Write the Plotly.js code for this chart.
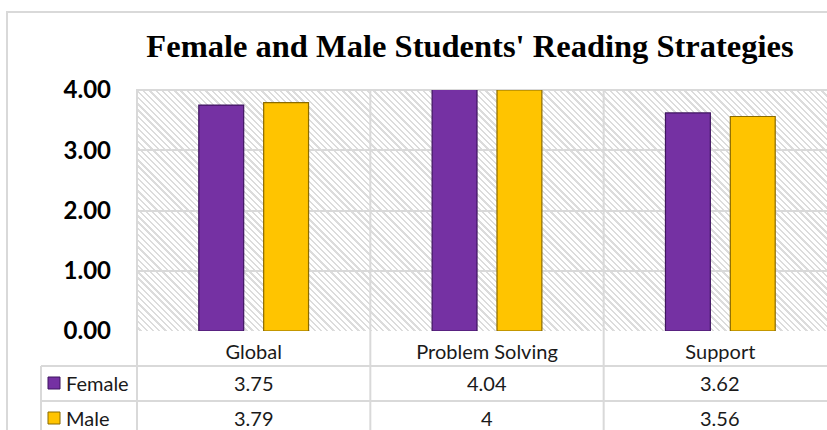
<!DOCTYPE html>
<html>
<head>
<meta charset="utf-8">
<script src="https://cdn.plot.ly/plotly-3.0.1.min.js"></script>
<style>
  html, body { margin: 0; padding: 0; background: #ffffff; overflow: hidden; }
  #wrap { position: relative; width: 827px; height: 430px; overflow: hidden; background: #ffffff; }
  #hatch { position: absolute; left: 136px; top: 90px; width: 702px; height: 241px;
    background: repeating-linear-gradient(45deg, #ffffff 0px, #ffffff 2.8px, #dcdcdc 2.8px, #dcdcdc 4.4px); }
  #frame { position: absolute; left: 6px; top: 11px; width: 900px; height: 500px;
    border-left: 2px solid #d9d9d9; border-top: 2px solid #d9d9d9; }
  #chart { position: absolute; left: 0; top: 0; }
</style>
</head>
<body>
<div id="wrap">
  <div id="frame"></div>
  <div id="hatch"></div>
  <div id="chart"></div>
</div>
<script>
const categories = ['Global', 'Problem Solving', 'Support'];
const seriesNames = ['Female', 'Male'];
const femaleValues = [3.75, 4.04, 3.62];
const maleValues = [3.79, 4, 3.56];
const femaleLabels = ['3.75', '4.04', '3.62'];
const maleLabels = ['3.79', '4', '3.56'];
const yTickVals = [0, 1, 2, 3, 4];
const titleText = "Female and Male Students' Reading Strategies";

const colors = ['#7531a3', '#ffc400'];
const edgeColors = ['#3f1560', '#8a6a00'];

// layout geometry (pixels)
const W = 850, H = 430;
const mL = 136, mR = 12, mT = 90, mB = 99;
const plotW = W - mL - mR, plotH = H - mT - mB;
const px = x => (x - mL) / plotW;      // pixel -> paper x
const py = y => (H - mB - y) / plotH;  // pixel -> paper y

const traces = [femaleValues, maleValues].map((vals, i) => ({
  type: 'bar',
  name: seriesNames[i],
  x: categories,
  y: vals,
  marker: { color: colors[i], line: { color: edgeColors[i], width: 1.2 } },
  hoverinfo: 'skip',
  cliponaxis: true
}));

const grid = '#d9d9d9';
const shapes = [];
// vertical category separators through plot and table
for (let k = 0; k <= categories.length; k++) {
  shapes.push({ type: 'line', xref: 'x', yref: 'paper', x0: k - 0.5, x1: k - 0.5,
    y0: py(440), y1: 1, line: { color: grid, width: 2 }, layer: 'below' });
}
// top border of plot
shapes.push({ type: 'line', xref: 'paper', yref: 'paper', x0: 0, x1: 1, y0: 1, y1: 1,
  line: { color: grid, width: 2 }, layer: 'below' });
// table row lines
[366, 401].forEach(yy => shapes.push({ type: 'line', xref: 'paper', yref: 'paper',
  x0: px(41), x1: 1, y0: py(yy), y1: py(yy), line: { color: grid, width: 2 } }));
// table left border
shapes.push({ type: 'line', xref: 'paper', yref: 'paper', x0: px(41), x1: px(41),
  y0: py(440), y1: py(366), line: { color: grid, width: 2 } });

// legend swatches in table
const rowCenters = [383, 418];
seriesNames.forEach((n, i) => {
  shapes.push({ type: 'rect', xref: 'paper', yref: 'paper',
    x0: px(48), x1: px(60), y0: py(rowCenters[i] + 6), y1: py(rowCenters[i] - 6),
    fillcolor: colors[i], line: { color: edgeColors[i], width: 1 } });
});

const annotations = [];
const tblFont = { family: 'Lato, sans-serif', size: 20, color: '#1a1a1a' };
[femaleLabels, maleLabels].forEach((labels, i) => {
  annotations.push({ xref: 'paper', yref: 'paper', x: px(64), y: py(rowCenters[i]),
    xanchor: 'left', yanchor: 'middle', text: seriesNames[i], showarrow: false, font: tblFont });
  labels.forEach((t, j) => {
    annotations.push({ xref: 'x', yref: 'paper', x: categories[j], y: py(rowCenters[i]),
      xanchor: 'center', yanchor: 'middle', text: t, showarrow: false, font: tblFont });
  });
});

const layout = {
  width: W, height: H,
  margin: { l: mL, r: mR, t: mT, b: mB, pad: 0 },
  paper_bgcolor: 'rgba(0,0,0,0)',
  plot_bgcolor: 'rgba(0,0,0,0)',
  showlegend: false,
  barmode: 'group',
  bargap: 0.444,
  bargroupgap: 0.308,
  title: { text: '<b>' + titleText + '</b>', font: { family: 'Liberation Serif, serif', size: 32.5, color: '#000000' },
    x: 470 / W, xref: 'container', xanchor: 'center', y: 1 - 46 / H, yref: 'container', yanchor: 'middle' },
  xaxis: {
    type: 'category', showgrid: false, zeroline: false, showline: false, ticks: '',
    tickfont: { family: 'Lato, sans-serif', size: 20, color: '#1a1a1a' },
    ticklabelstandoff: 7, fixedrange: true
  },
  yaxis: {
    range: [0, 4], tickvals: yTickVals, tickformat: '.2f',
    showgrid: true, gridcolor: grid, gridwidth: 2, zeroline: false, showline: false, ticks: '',
    tickfont: { family: 'Lato, sans-serif', size: 24, color: '#000000', weight: 'bold' },
    ticklabelstandoff: 24, fixedrange: true
  },
  shapes: shapes,
  annotations: annotations
};

Plotly.newPlot('chart', traces, layout, { staticPlot: true, displayModeBar: false });
</script>
</body>
</html>
